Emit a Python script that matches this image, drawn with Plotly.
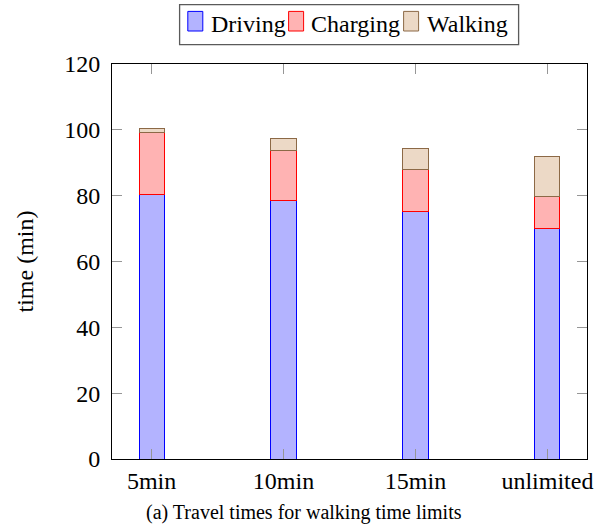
import plotly.graph_objects as go

categories = ["5min", "10min", "15min", "unlimited"]
driving = [80.3, 78.6, 75.2, 69.9]
charging = [18.8, 15.0, 12.8, 9.8]
walking = [1.2, 3.8, 6.4, 12.1]
series_names = ["Driving", "Charging", "Walking"]
y_ticks = [0, 20, 40, 60, 80, 100, 120]
caption = "(a) Travel times for walking time limits"
y_title = "time (min)"

W, H = 606, 527
L, R, T, B = 111.7, 586.7, 64.3, 459.3

fills = ["rgb(179,179,255)", "rgb(255,179,179)", "rgb(236,217,198)"]
edges = ["rgb(0,0,255)", "rgb(255,0,0)", "rgb(140,105,70)"]
FONT = "Liberation Serif"
FS = 24

def px2x(px):
    return (px - L) / (R - L)

def px2y(py):
    return (B - py) / (B - T)

fig = go.Figure()
for name, vals, fc, ec in zip(series_names, [driving, charging, walking], fills, edges):
    fig.add_trace(go.Bar(
        x=categories, y=vals, name=name, width=0.19,
        marker=dict(color=fc, line=dict(color=ec, width=1)),
        showlegend=False,
    ))

# custom legend
fig.add_shape(type="rect", xref="paper", yref="paper",
              x0=px2x(179.3), x1=px2x(518.3), y0=px2y(45), y1=px2y(5),
              line=dict(color="rgb(90,90,90)", width=1.3), fillcolor="white")
sw_x = [187.5, 288.3, 403.3]
tx_x = [208.3, 308.3, 425.0]
for name, fc, ec, sx, tx in zip(series_names, fills, edges, sw_x, tx_x):
    fig.add_shape(type="rect", xref="paper", yref="paper",
                  x0=px2x(sx), x1=px2x(sx + 15), y0=px2y(31.3), y1=px2y(11.7),
                  line=dict(color=ec, width=1), fillcolor=fc)
    fig.add_annotation(text=name, xref="paper", yref="paper",
                       x=px2x(tx), y=px2y(24.5), xanchor="left", yanchor="middle",
                       showarrow=False, font=dict(family=FONT, size=FS, color="black"))

fig.add_annotation(text=caption, xref="paper", yref="paper",
                   x=px2x(304), y=px2y(513), xanchor="center", yanchor="middle",
                   showarrow=False, font=dict(family=FONT, size=20, color="black"))

fig.update_layout(
    width=W, height=H,
    margin=dict(l=L, r=W - R, t=T, b=H - B, pad=0),
    barmode="stack",
    plot_bgcolor="white", paper_bgcolor="white",
    showlegend=False,
)
fig.update_xaxes(
    type="category", range=[-0.3, 3.3],
    showline=True, linecolor="black", linewidth=1, mirror="ticks",
    ticks="inside", ticklen=10, tickcolor="rgb(150,150,150)", tickwidth=1,
    showgrid=False, zeroline=False,
    tickfont=dict(family=FONT, size=FS, color="black"),
)
fig.update_yaxes(
    range=[0, 120], tickvals=y_ticks,
    showline=True, linecolor="black", linewidth=1, mirror="ticks",
    ticks="inside", ticklen=10, tickcolor="rgb(150,150,150)", tickwidth=1,
    showgrid=False, zeroline=False, ticklabelstandoff=6,
    tickfont=dict(family=FONT, size=FS, color="black"),
    title=dict(text=y_title, standoff=23, font=dict(family=FONT, size=FS, color="black")),
    automargin=False,
)

fig.write_html("out.html")
